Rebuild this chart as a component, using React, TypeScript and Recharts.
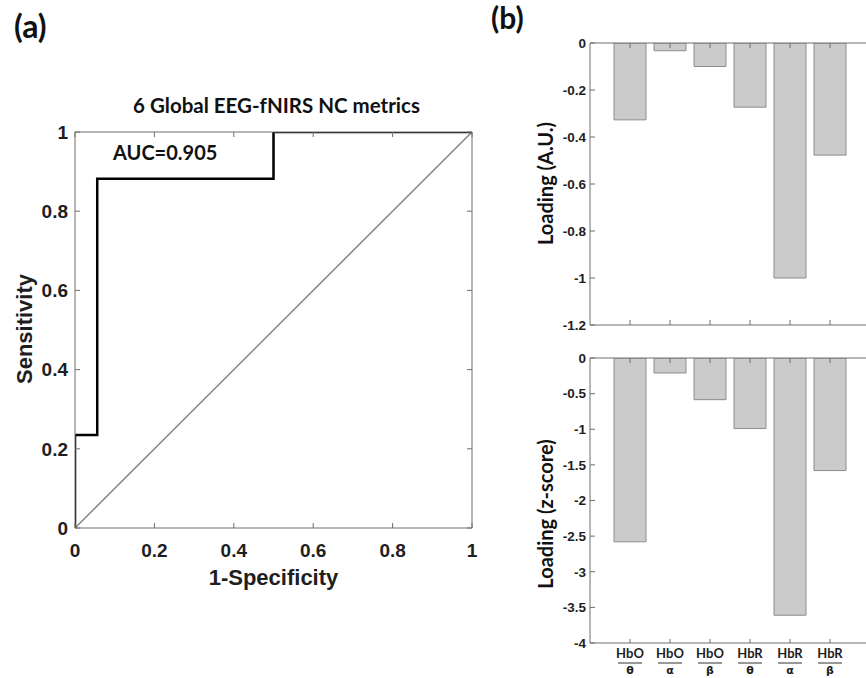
import React from 'react'
import { LineChart, Line, XAxis, YAxis, BarChart, Bar } from 'recharts'

// ROC curve (a)
const rocFpr = [0, 0, 0.056, 0.056, 0.5, 0.5, 1]
const rocTpr = [0, 0.235, 0.235, 0.882, 0.882, 1, 1]
const chanceFpr = [0, 1]
const chanceTpr = [0, 1]
const rocTicks = [0, 0.2, 0.4, 0.6, 0.8, 1]

// loadings (b)
const ratioTop = ['HbO', 'HbO', 'HbO', 'HbR', 'HbR', 'HbR']
const ratioBottom = ['θ', 'α', 'β', 'θ', 'α', 'β']
const loadingAU = [-0.327, -0.033, -0.1, -0.273, -1.0, -0.477]
const loadingZ = [-2.58, -0.21, -0.585, -0.99, -3.61, -1.58]
const auTicks = [0, -0.2, -0.4, -0.6, -0.8, -1, -1.2]
const zTicks = [0, -0.5, -1, -1.5, -2, -2.5, -3, -3.5, -4]

const rocData = rocFpr.map((x, i) => ({ x, y: rocTpr[i] }))
const chanceData = chanceFpr.map((x, i) => ({ x, y: chanceTpr[i] }))
const barData = ratioTop.map((t, i) => ({
  name: `${t}/${ratioBottom[i]}`,
  au: loadingAU[i],
  z: loadingZ[i],
}))

const AXIS = '#6e6e6e'
const TXT = '#1e1e1e'
const ARIAL = '"Liberation Sans", Arial, sans-serif'
const CALIBRI = 'Lato, "Open Sans", sans-serif'

// inward ticks, matlab style
function BottomTick({ x, y, payload, label, size }: any) {
  return (
    <g>
      <line x1={x} y1={y} x2={x} y2={y - 5} stroke={AXIS} />
      {label && (
        <text x={x} y={y + 29} textAnchor="middle" fontFamily={ARIAL} fontWeight="bold" fontSize={size} fill={TXT}>
          {payload.value}
        </text>
      )}
    </g>
  )
}

function TopTick({ x, y }: any) {
  return <line x1={x} y1={y} x2={x} y2={y + 5} stroke={AXIS} />
}

function LeftTick({ x, y, payload, size, gap }: any) {
  return (
    <g>
      <line x1={x} y1={y} x2={x + 5} y2={y} stroke={AXIS} />
      <text x={x - gap} y={y + size * 0.36} textAnchor="end" fontFamily={ARIAL} fontWeight="bold" fontSize={size} fill={TXT}>
        {payload.value}
      </text>
    </g>
  )
}

function RightTick({ x, y }: any) {
  return <line x1={x} y1={y} x2={x - 5} y2={y} stroke={AXIS} />
}

function RatioTick({ x, y, payload }: any) {
  const [num, den] = String(payload.value).split('/')
  return (
    <g>
      <line x1={x} y1={y} x2={x} y2={y - 4} stroke={AXIS} />
      <text x={x} y={y + 15} textAnchor="middle" fontFamily={CALIBRI} fontWeight="bold" fontSize={13} fill={TXT}>
        {num}
      </text>
      <line x1={x - 12} y1={y + 20} x2={x + 12} y2={y + 20} stroke="#333" strokeWidth={1} />
      <text x={x} y={y + 31} textAnchor="middle" fontFamily='"DejaVu Sans", sans-serif' fontWeight="bold" fontSize={11} fill={TXT}>
        {den}
      </text>
    </g>
  )
}

function LoadingChart({ dataKey, domain, ticks, top, height, margin, xHeight, showLabels }: any) {
  return (
    <div style={{ position: 'absolute', left: 490, top }}>
      <BarChart width={380} height={height} data={barData} margin={margin} barCategoryGap="10%">
        <XAxis
          dataKey="name"
          padding={{ left: 20, right: 20 }}
          height={xHeight}
          interval={0}
          tickSize={0}
          tickMargin={0}
          tickLine={false}
          axisLine={{ stroke: AXIS }}
          tick={(p: any) => (showLabels ? <RatioTick {...p} /> : <BottomTick {...p} label={false} />)}
        />
        <XAxis
          xAxisId="top"
          orientation="top"
          dataKey="name"
          padding={{ left: 20, right: 20 }}
          height={1}
          interval={0}
          tickSize={0}
          tickMargin={0}
          tickLine={false}
          axisLine={{ stroke: AXIS }}
          tick={(p: any) => <TopTick {...p} />}
        />
        <YAxis
          type="number"
          domain={domain}
          ticks={ticks}
          allowDataOverflow
          width={50}
          interval={0}
          tickSize={0}
          tickMargin={0}
          tickLine={false}
          axisLine={{ stroke: AXIS }}
          tick={(p: any) => <LeftTick {...p} size={13.5} gap={4} />}
        />
        <Bar dataKey={dataKey} fill="#cbcbcb" stroke="#8c8c8c" strokeWidth={1} isAnimationActive={false} />
      </BarChart>
    </div>
  )
}

export default function App() {
  return (
    <div style={{ position: 'absolute', left: 0, top: 0, width: 866, height: 678, overflow: 'hidden', background: '#fff' }}>
      <div style={{ position: 'absolute', left: 0, top: 0 }}>
        <LineChart width={480} height={600} margin={{ top: 131, right: 7, bottom: 42, left: 35 }}>
          <XAxis
            type="number"
            dataKey="x"
            domain={[0, 1]}
            ticks={rocTicks}
            allowDataOverflow
            height={30}
            interval={0}
            tickSize={0}
            tickMargin={0}
            tickLine={false}
            axisLine={{ stroke: AXIS }}
            tick={(p: any) => <BottomTick {...p} label size={19} />}
          />
          <XAxis
            xAxisId="top"
            orientation="top"
            type="number"
            dataKey="x"
            domain={[0, 1]}
            ticks={rocTicks}
            allowDataOverflow
            height={1}
            interval={0}
            tickSize={0}
            tickMargin={0}
            tickLine={false}
            axisLine={{ stroke: AXIS }}
            tick={(p: any) => <TopTick {...p} />}
          />
          <YAxis
            type="number"
            domain={[0, 1]}
            ticks={rocTicks}
            allowDataOverflow
            width={40}
            interval={0}
            tickSize={0}
            tickMargin={0}
            tickLine={false}
            axisLine={{ stroke: AXIS }}
            tick={(p: any) => <LeftTick {...p} size={19} gap={7} />}
          />
          <YAxis
            yAxisId="right"
            orientation="right"
            type="number"
            domain={[0, 1]}
            ticks={rocTicks}
            allowDataOverflow
            width={1}
            interval={0}
            tickSize={0}
            tickMargin={0}
            tickLine={false}
            axisLine={{ stroke: AXIS }}
            tick={(p: any) => <RightTick {...p} />}
          />
          <Line data={chanceData} dataKey="y" stroke="#848484" strokeWidth={1.5} dot={false} isAnimationActive={false} />
          <Line data={rocData} dataKey="y" stroke="#000" strokeWidth={2.5} dot={false} strokeLinejoin="miter" isAnimationActive={false} />
        </LineChart>
      </div>

      <LoadingChart
        dataKey="au"
        domain={[-1.2, 0]}
        ticks={auTicks}
        top={0}
        height={340}
        margin={{ top: 42, right: 0, bottom: 5, left: 50 }}
        xHeight={10}
        showLabels={false}
      />
      <LoadingChart
        dataKey="z"
        domain={[-4, 0]}
        ticks={zTicks}
        top={340}
        height={338}
        margin={{ top: 17, right: 0, bottom: 1, left: 50 }}
        xHeight={34}
        showLabels
      />

      <svg width={866} height={678} style={{ position: 'absolute', left: 0, top: 0, pointerEvents: 'none' }}>
        <text x={14} y={38} fontFamily={CALIBRI} fontWeight="bold" fontSize={32} fill="#111">(a)</text>
        <text x={491} y={29} fontFamily={CALIBRI} fontWeight="bold" fontSize={30} fill="#111">(b)</text>
        <text x={276.5} y={113} textAnchor="middle" fontFamily={CALIBRI} fontWeight="bold" fontSize={20.5} fill="#111">
          6 Global EEG-fNIRS NC metrics
        </text>
        <text x={113} y={160} fontFamily={CALIBRI} fontWeight="bold" fontSize={20} fill="#111">AUC=0.905</text>
        <text transform="translate(31.5,329) rotate(-90)" textAnchor="middle" fontFamily={ARIAL} fontWeight="bold" fontSize={22} fill={TXT}>
          Sensitivity
        </text>
        <text x={273.5} y={585} textAnchor="middle" fontFamily={ARIAL} fontWeight="bold" fontSize={22} fill={TXT}>
          1-Specificity
        </text>
        <text transform="translate(553,183.5) rotate(-90)" textAnchor="middle" fontFamily={CALIBRI} fontWeight="bold" fontSize={20} fill="#111">
          Loading (A.U.)
        </text>
        <text transform="translate(553,514) rotate(-90)" textAnchor="middle" fontFamily={CALIBRI} fontWeight="bold" fontSize={20} fill="#111">
          Loading (z-score)
        </text>
      </svg>
    </div>
  )
}
